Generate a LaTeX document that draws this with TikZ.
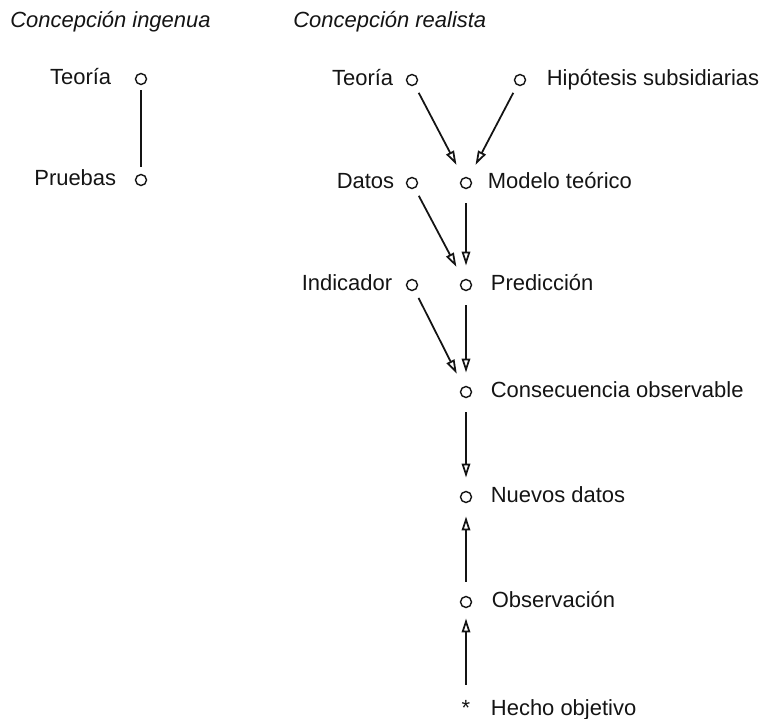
\documentclass[tikz,border=0pt]{standalone}
\usepackage{fontspec}
\setmainfont{Liberation Sans}
\usetikzlibrary{arrows.meta,positioning}
\definecolor{ink}{HTML}{141414}
\tikzset{pt/.style={draw=ink, circle, line width=.8pt, inner sep=0pt, outer sep=0pt, minimum size=2.2mm}, lab/.style={font=\fontsize{12.5}{15}\selectfont, text=ink, inner sep=0pt, text height=6.5pt, text depth=0pt}, ttl/.style={font=\fontsize{12.5}{15}\selectfont\itshape, text=ink, inner sep=0pt, anchor=base west}, arr/.style={-{Triangle[open,length=2.8mm,width=1.7mm]}, line width=1pt, color=ink}, diag/.style={arr, shorten <=1.8mm, shorten >=3mm}, vert/.style={arr, shorten <=3mm, shorten >=2.8mm}}

\begin{document}
\begin{tikzpicture}[x=0.02cm, y=-0.02cm]
\useasboundingbox (0,0) rectangle (767,719);
\node[ttl] (ingenua) at (10,28) {Concepción ingenua}; \node[ttl] (realista) at (293,28) {Concepción realista};
% concepcion ingenua
\node[pt] (teoA) at (141,79) {}; \node[lab, left=.48cm of teoA] (teoAtxt) {Teoría};
\node[pt] (prueba) at (141,180) {}; \node[lab, left=.38cm of prueba] (pruebatxt) {Pruebas};
\draw[line width=1pt, color=ink, shorten <=1.2mm, shorten >=1.4mm] (teoA) -- (prueba);
% concepcion realista
\node[pt] (teoB) at (412,80) {}; \node[lab, left=.26cm of teoB] (teoBtxt) {Teoría};
\node[pt] (hipo) at (520,80) {}; \node[lab, right=.42cm of hipo] (hipotxt) {Hipótesis subsidiarias};
\node[pt] (datos) at (412,183) {}; \node[lab, left=.24cm of datos] (datostxt) {Datos};
\node[pt] (modelo) at (466,183) {}; \node[lab, right=.32cm of modelo] (modelotxt) {Modelo teórico};
\node[pt] (indic) at (412,285) {}; \node[lab, left=.28cm of indic] (indictxt) {Indicador};
\node[pt] (pred) at (466,285) {}; \node[lab, right=.38cm of pred] (predtxt) {Predicción};
\node[pt] (conse) at (466,392) {}; \node[lab, right=.38cm of conse] (consetxt) {Consecuencia observable};
\node[pt] (nuevos) at (466,497) {}; \node[lab, right=.38cm of nuevos] (nuevostxt) {Nuevos datos};
\node[pt] (obs) at (466,602) {}; \node[lab, right=.4cm of obs] (obstxt) {Observación};
\node[lab, text height=, anchor=base] (hecho) at (466,715) {*}; \node[lab, base right=.4cm of hecho] (hechotxt) {Hecho objetivo};
\draw[diag] (teoB) -- (modelo); \draw[diag] (hipo) -- (modelo);
\draw[diag] (datos) -- (pred); \draw[vert] (modelo) -- (pred);
\draw[diag] (indic) -- (conse); \draw[vert] (pred) -- (conse);
\draw[vert] (conse) -- (nuevos); \draw[vert] (obs) -- (nuevos);
\draw[vert, shorten >=2.2mm] (hecho) -- (obs);
\end{tikzpicture}
\end{document}
